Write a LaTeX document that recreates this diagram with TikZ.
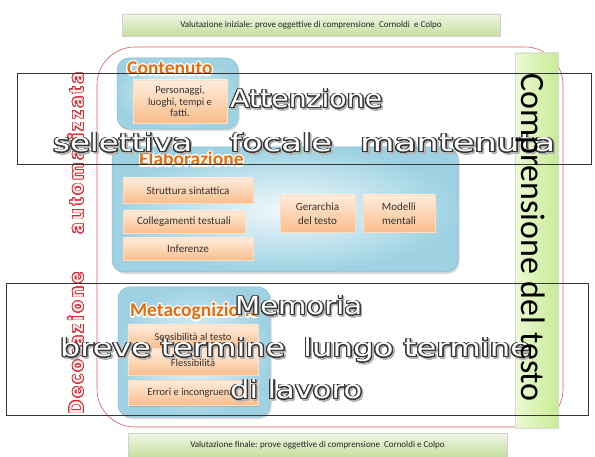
\documentclass[tikz,border=0pt]{standalone}
\usepackage{fontspec}
\setmainfont{Carlito}
\newfontfamily\ovfamily{DejaVu Sans}
\newfontfamily\redfamily[LetterSpace=16]{Carlito Bold}
\usepackage[copies]{contour}
\contournumber{32}
\usetikzlibrary{shadows}

\definecolor{ttlorange}{RGB}{228,108,10}
\definecolor{framered}{RGB}{226,90,100}
\definecolor{redtxt}{RGB}{222,40,48}
\definecolor{redfill}{RGB}{255,236,236}
\definecolor{ovline}{RGB}{55,55,55}
\definecolor{barlight}{RGB}{240,246,228}
\definecolor{bardark}{RGB}{196,222,158}
\definecolor{vbarlight}{RGB}{236,248,212}
\definecolor{vbardark}{RGB}{200,236,150}
\definecolor{panelin}{RGB}{240,248,251}
\definecolor{panelout}{RGB}{158,210,227}
\definecolor{panelline}{RGB}{130,188,206}
\definecolor{orlight}{RGB}{255,236,220}
\definecolor{ordark}{RGB}{249,190,140}

\newcommand{\ovtext}[2]{\resizebox{#1}{\height}{\contourlength{0.9pt}%
  \rlap{\raisebox{-1.3pt}{\hspace{1.3pt}\color{black!30}\contour{black!30}{#2}}}%
  \color{white}\contour{ovline}{#2}}}
\newcommand{\redtext}[1]{{\contourlength{0.7pt}\color{redfill}\contour{redtxt}{#1}}}
\newcommand{\ttltext}[1]{{\contourlength{1.2pt}\color{ttlorange}\contour{white}{#1}}}

\tikzset{
  gbar/.style={draw=black!18, top color=barlight, bottom color=bardark,
    font=\fontsize{9}{10}\selectfont, text=black!85,
    drop shadow={opacity=0.25, shadow xshift=1pt, shadow yshift=-1.5pt}},
  panel/.style={draw=panelline, line width=0.5pt, rounded corners=12pt,
    inner color=panelin, outer color=panelout,
    drop shadow={opacity=0.3, shadow xshift=1.5pt, shadow yshift=-2pt}},
  obox/.style={draw=orlight!70!ordark, line width=0.3pt, top color=orlight, bottom color=ordark,
    font=\fontsize{11}{14}\selectfont, text=black!80, align=center, inner sep=1pt,
    drop shadow={opacity=0.3, shadow xshift=1pt, shadow yshift=-1.5pt}},
  ttl/.style={font=\fontsize{19.5}{21}\selectfont\bfseries, anchor=base west, inner sep=0pt},
  ovbox/.style={draw=ovline, line width=0.8pt, fill=none},
  ovl/.style={font=\fontsize{25}{25}\selectfont\ovfamily, anchor=base west, inner sep=0pt},
  redv/.style={font=\fontsize{21}{21}\selectfont\redfamily, anchor=base, rotate=90, inner sep=0pt},
}

\begin{document}
\begin{tikzpicture}[x=1pt,y=-1pt]
\useasboundingbox (0,0) rectangle (595,457);
\fill[white] (0,0) rectangle (595,457);

% assessment bars
\node[gbar, minimum width=378pt, minimum height=22pt] (topbar) at (311,25)
  {Valutazione iniziale: prove oggettive di comprensione~ Cornoldi~ e Colpo};
\node[gbar, minimum width=379pt, minimum height=24pt] (botbar) at (317.5,445)
  {Valutazione finale: prove oggettive di comprensione~ Cornoldi e Colpo};

% red frame
\node[draw=framered, line width=0.6pt, rounded corners=38pt,
      minimum width=466pt, minimum height=380pt, inner sep=0pt] (frame) at (330,237) {};

% panels
\node[panel, minimum width=121pt, minimum height=71pt] (pcont) at (177.5,93.5) {};
\node[panel, minimum width=346pt, minimum height=125pt] (pelab) at (285,209.5) {};
\node[panel, minimum width=152pt, minimum height=130pt] (pmeta) at (194,352) {};

% orange boxes
\node[obox, minimum width=94pt, minimum height=43pt, font=\fontsize{10.5}{11.5}\selectfont] (pers) at (180,101.5)
  {Personaggi,\\luoghi, tempi e\\fatti.};
\node[obox, minimum width=130pt, minimum height=25pt] (strut) at (188,190.5) {Struttura sintattica};
\node[obox, minimum width=122pt, minimum height=22pt] (colleg) at (184,222) {Collegamenti testuali};
\node[obox, minimum width=130pt, minimum height=22pt] (infer) at (188,249) {Inferenze};
\node[obox, minimum width=75pt, minimum height=37pt] (gerar) at (317.5,213.5) {Gerarchia\\del testo};
\node[obox, minimum width=72pt, minimum height=37pt] (model) at (399,213.5) {Modelli\\mentali};
\node[obox, minimum width=130pt, minimum height=23pt, font=\fontsize{10.5}{12}\selectfont] (sens) at (193,336.5) {Sensibilità al testo};
\node[obox, minimum width=130pt, minimum height=25pt, font=\fontsize{10.5}{12}\selectfont] (fless) at (193,362.5) {Flessibilità};
\node[obox, minimum width=130pt, minimum height=25pt, font=\fontsize{10.5}{12}\selectfont] (errori) at (193,392.5) {Errori e incongruenze};

% titles
\node[ttl] (tcont) at (127,75) {\ttltext{Contenuto}};
\node[ttl] (telab) at (139,166) {\ttltext{Elaborazione}};
\node[ttl] (tmeta) at (130,317) {\ttltext{Metacognizione}};

% red vertical text
\node[redv] (deco) at (83,343.5) {\redtext{Decorazione}};
\node[redv] (auto) at (83,153.5) {\redtext{automatizzata}};

% green vertical bar
\node[draw=black!15, line width=0.4pt, left color=vbarlight, right color=vbardark,
      minimum width=43pt, minimum height=375pt, inner sep=0pt] (vbar) at (536.5,240.5) {};

% overlay boxes
\node[ovbox, minimum width=574pt, minimum height=91pt, inner sep=0pt] (attbox) at (304,118.5) {};
\node[ovbox, minimum width=582pt, minimum height=132pt, inner sep=0pt] (membox) at (297,349) {};

% overlay texts
\node[ovl] (att) at (230,108) {\ovtext{152pt}{Attenzione}};
\node[ovl] (sel) at (53,152) {\ovtext{139pt}{selettiva}};
\node[ovl] (foc) at (230,152) {\ovtext{102pt}{focale}};
\node[ovl] (man) at (360,152) {\ovtext{195pt}{mantenuta}};
\node[ovl] (mem) at (235,315) {\ovtext{127pt}{Memoria}};
\node[ovl] (breve) at (60,357) {\ovtext{225pt}{breve termine}};
\node[ovl] (lungo) at (303,357) {\ovtext{227pt}{lungo termine}};
\node[ovl] (lav) at (230,399) {\ovtext{132pt}{di lavoro}};

% vertical title
\node[font=\fontsize{34}{34}\selectfont, anchor=base, rotate=-90, inner sep=0pt, text=black] (compr)
  at (521,237.5) {Comprensione del testo};
\end{tikzpicture}
\end{document}
